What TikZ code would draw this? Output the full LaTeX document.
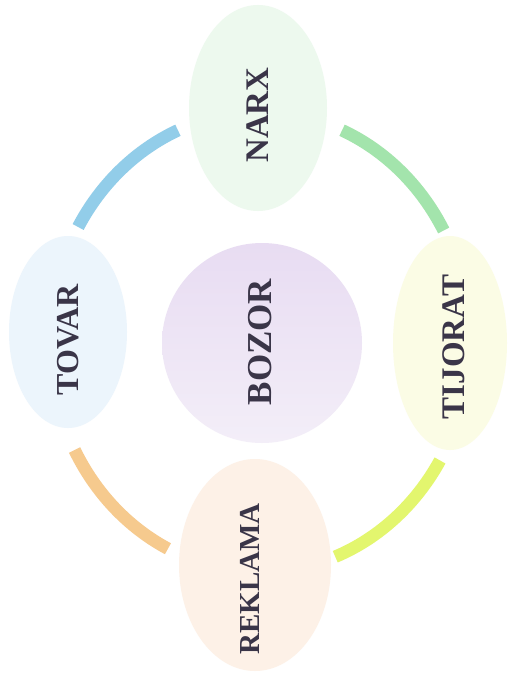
\documentclass[tikz,border=0pt]{standalone}
\usepackage{fontspec}
\setmainfont{Liberation Serif}
\usetikzlibrary{shapes.geometric}
\definecolor{txt}{HTML}{3A3548}
\definecolor{arcblue}{HTML}{92CDE9}
\definecolor{arcgreen}{HTML}{A3E4AC}
\definecolor{arcorange}{HTML}{F6CA8E}
\definecolor{arcyellow}{HTML}{E3F66E}
\definecolor{fnarx}{HTML}{EDF9EE}
\definecolor{ftovar}{HTML}{ECF5FC}
\definecolor{ftijorat}{HTML}{FBFCE5}
\definecolor{freklama}{HTML}{FDF1E7}
\definecolor{fbozorA}{HTML}{E8DCF2}
\definecolor{fbozorB}{HTML}{F3EEF8}
\tikzset{
  blob/.style={ellipse, inner sep=0pt},
  word/.style={rotate=90, text=txt, font=\bfseries, inner sep=0pt},
  ringarc/.style={line width=12.5pt, line cap=butt},
}
\begin{document}
\begin{tikzpicture}[x=1pt,y=-1pt]
\useasboundingbox[fill=white] (0,0) rectangle (508,674);
\coordinate (ring) at (260,342);
% ellipses
\node[blob, fill=fnarx, minimum width=138pt, minimum height=206pt] (narx) at (258,108) {};
\node[blob, fill=ftovar, minimum width=118pt, minimum height=192pt] (tovar) at (68,332) {};
\node[blob, fill=ftijorat, minimum width=114pt, minimum height=214pt] (tijorat) at (450,343) {};
\node[blob, fill=freklama, minimum width=152pt, minimum height=212pt] (reklama) at (255,565) {};
\node[circle, inner sep=0pt, minimum size=200pt, top color=fbozorA, bottom color=fbozorB] (bozor) at (262,343) {};
% ring arcs between the ellipses
\draw[ringarc, arcblue] (ring) ++(113:210pt and 230pt) arc[start angle=113, end angle=150, x radius=210pt, y radius=230pt];
\draw[ringarc, arcgreen] (ring) ++(67:210pt and 230pt) arc[start angle=67, end angle=29, x radius=210pt, y radius=230pt];
\draw[ringarc, arcorange] (ring) ++(208:210pt and 230pt) arc[start angle=208, end angle=244, x radius=210pt, y radius=230pt];
\draw[ringarc, arcyellow] (ring) ++(-31:210pt and 230pt) arc[start angle=-31, end angle=-69, x radius=210pt, y radius=230pt];
% labels
\node[word, font=\bfseries\fontsize{33}{33}\selectfont] (narxt) at (258,115) {NARX};
\node[word, font=\bfseries\fontsize{32}{32}\selectfont] (tovart) at (68,340) {TOVAR};
\node[word, font=\bfseries\fontsize{33}{33}\selectfont] (tijoratt) at (454,347) {TIJORAT};
\node[word, font=\bfseries\fontsize{35}{35}\selectfont] (bozort) at (260,342) {BOZOR};
\node[word, font=\bfseries\fontsize{29}{29}\selectfont] (reklamat) at (250,579) {REKLAMA};
\end{tikzpicture}
\end{document}
